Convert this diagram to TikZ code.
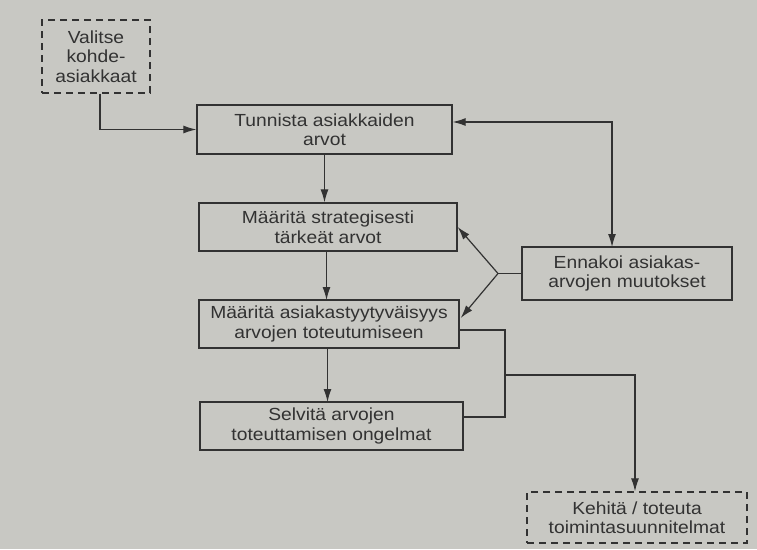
\documentclass[tikz,border=0pt]{standalone}
\usepackage{fontspec}
\setmainfont{Liberation Sans}[FakeStretch=1.1]
\usetikzlibrary{arrows.meta,calc}
\definecolor{paper}{RGB}{200,200,195}
\definecolor{ink}{RGB}{50,50,50}
\tikzset{
  box/.style={draw=ink, line width=1.3pt, text=ink, align=center, inner sep=0pt,
    font=\fontsize{17.5}{19.5}\selectfont},
  dbox/.style={box, dash pattern=on 7pt off 5pt},
  conn/.style={draw=ink, line width=1.2pt},
  arr/.style={conn, -{Latex[length=13pt,width=8pt]}},
  darr/.style={conn, {Latex[length=13pt,width=8pt]}-{Latex[length=13pt,width=8pt]}}
}
\begin{document}
\begin{tikzpicture}[x=1pt,y=-1pt]
\fill[paper] (0,0) rectangle (757,549);
\useasboundingbox (0,0) rectangle (757,549);

\node[dbox, minimum width=108pt, minimum height=73pt] (valitse) at (96,56.5) {Valitse\\kohde-\\asiakkaat};
\node[box, minimum width=255pt, minimum height=49pt] (tunnista) at (324.5,129.5) {Tunnista asiakkaiden\\arvot};
\node[box, minimum width=258pt, minimum height=48pt] (strat) at (328,227) {Määritä strategisesti\\tärkeät arvot};
\node[box, minimum width=260pt, minimum height=48pt] (tyyty) at (329,324) {Määritä asiakastyytyväisyys\\arvojen toteutumiseen};
\node[box, minimum width=263pt, minimum height=48pt] (selvita) at (331.5,426) {Selvitä arvojen\\toteuttamisen ongelmat};
\node[box, minimum width=210pt, minimum height=53pt] (ennakoi) at (627,273.5) {Ennakoi asiakas-\\arvojen muutokset};
\node[dbox, minimum width=220pt, minimum height=51pt] (kehita) at (637,517.5) {Kehitä / toteuta\\toimintasuunnitelmat};

\coordinate (j1) at (498,273.5);
\coordinate (j2) at (505,375);
\coordinate (c1) at (326.5,251);
\coordinate (c2) at (326.5,300);
\coordinate (c3) at (327.5,348);
\coordinate (c4) at (327.5,402);
\coordinate (e1) at (612,247);
\coordinate (r1) at (505,417);

\draw[arr] ($(valitse.south)+(4,0)$) |- (tunnista.west);
\draw[arr] (tunnista.south) -- (tunnista.south |- strat.north);
\draw[arr] (c1) -- (c2);
\draw[arr] (c3) -- (c4);
\draw[darr] ($(tunnista.east)+(0,-7.5)$) -| (e1);
\draw[conn] (ennakoi.west) -- (j1);
\draw[arr] (j1) -- (strat.east);
\draw[arr] (j1) -- ($(tyyty.east)+(1,-6)$);
\draw[conn] ($(tyyty.east)+(0,6)$) -| (r1) -- ($(selvita.east)+(0,-9)$);
\draw[arr] (j2) -| ($(kehita.north)+(-2,0)$);
\end{tikzpicture}
\end{document}
